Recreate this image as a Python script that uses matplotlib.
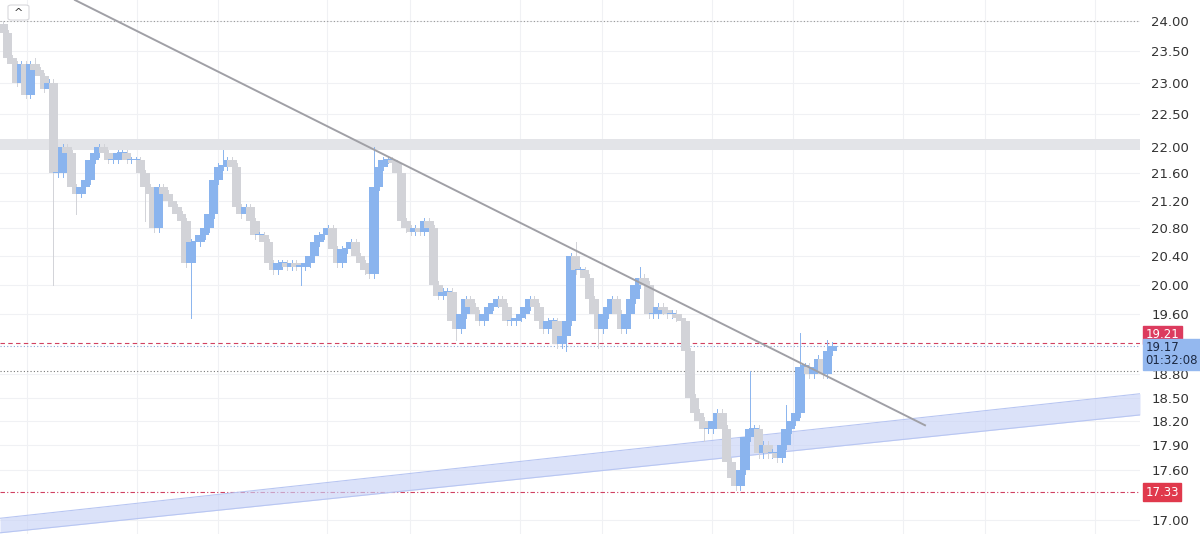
import numpy as np
import matplotlib
matplotlib.use("Agg")
import matplotlib.pyplot as plt
from matplotlib.patches import Rectangle, FancyBboxPatch
from matplotlib.ticker import FixedLocator, NullLocator

closes = [23.8,23.4,23.3,23.0,23.3,22.8,23.3,23.2,23.1,22.9,23.0,21.6,21.6,22.0,21.9,21.4,21.3,21.4,21.5,21.8,
          21.9,22.0,21.9,21.8,21.8,21.9,21.9,21.8,21.8,21.8,21.6,21.4,21.3,20.8,21.4,21.3,21.2,21.1,21.0,20.9,
          20.3,20.6,20.6,20.7,20.8,21.0,21.5,21.7,21.7,21.8,21.7,21.1,21.0,21.1,20.9,20.7,20.7,20.6,20.3,20.2,
          20.3,20.3,20.25,20.3,20.25,20.25,20.3,20.4,20.6,20.7,20.7,20.8,20.5,20.3,20.5,20.5,20.6,20.4,20.3,20.2,
          20.15,21.4,21.7,21.8,21.8,21.75,21.6,20.9,20.8,20.75,20.8,20.75,20.9,20.8,20.0,19.85,19.9,19.9,19.5,19.4,
          19.6,19.8,19.7,19.6,19.5,19.6,19.7,19.75,19.8,19.7,19.5,19.5,19.55,19.6,19.7,19.8,19.7,19.5,19.4,19.5,
          19.5,19.2,19.3,19.5,20.4,20.2,20.2,20.1,19.8,19.6,19.4,19.6,19.7,19.8,19.6,19.4,19.6,19.8,20.0,20.1,
          20.0,19.6,19.6,19.7,19.65,19.6,19.6,19.55,19.5,19.1,18.5,18.3,18.2,18.1,18.1,18.2,18.3,18.1,17.7,17.5,
          17.4,17.6,18.0,18.1,18.1,17.8,17.9,17.8,17.8,17.75,17.9,18.1,18.2,18.3,18.9,18.9,18.8,18.9,19.0,18.8,
          19.1,19.17]
first_open = 23.95
long_lows = {54: 20.0, 77: 21.0, 191: 19.55, 146: 20.9, 300: 20.0, 458: 19.25, 568: 19.1, 598: 19.15,
             738: 17.35, 729: 17.45, 702: 17.95, 800: 18.6}
long_highs = {373: 22.0, 577: 20.6, 641: 20.25, 800: 19.35, 750: 18.85, 827: 19.25, 33: 23.4, 222: 21.95, 787: 18.4}
wick = 0.05

yticks = [24.00,23.50,23.00,22.50,22.00,21.60,21.20,20.80,20.40,20.00,19.60,18.80,18.50,18.20,17.90,17.60,17.00]
grid_px = [27,137,218,327,410,520,602,712,793,903,985,1095]

N = len(closes)
ppu = (832 - 3) / (N - 1)
def px2i(px):
    return (px - 3) / ppu

opens = [first_open] + closes[:-1]
highs = [max(o, c) + wick for o, c in zip(opens, closes)]
lows = [min(o, c) - wick for o, c in zip(opens, closes)]
for px, v in long_lows.items():
    i = int(round(px2i(px))); lows[i] = min(lows[i], v)
for px, v in long_highs.items():
    i = int(round(px2i(px))); highs[i] = max(highs[i], v)

fig = plt.figure(figsize=(12, 5.34), dpi=100)
ax = fig.add_axes([0, 0, 1140/1200, 1])
ax.set_yscale("log")
ytop = 24 * np.exp(21/1447); ybot = 24 * np.exp(-513/1447)
ax.set_ylim(ybot, ytop)
ax.set_xlim(px2i(0), px2i(1140))
for s in ax.spines.values():
    s.set_visible(False)
ax.yaxis.set_major_locator(FixedLocator(yticks))
ax.yaxis.set_minor_locator(NullLocator())
ax.yaxis.tick_right()
ax.set_yticklabels([f"{t:.2f}" for t in yticks])
ax.tick_params(axis="y", length=0, labelsize=9.5, labelcolor="#333333", pad=8)
ax.set_xticks([])

for t in yticks:
    ax.axhline(t, color="#f0f1f4", lw=0.8, zorder=0)
for g in grid_px:
    ax.axvline(px2i(g), color="#f0f1f4", lw=0.8, zorder=0)

ax.axhspan(21.96, 22.12, color="#e3e4e8", zorder=1, lw=0)
ax.axhline(24.0, color="#999999", lw=0.8, ls=(0, (1, 2)), zorder=1)
ax.axhline(18.85, color="#777777", lw=0.8, ls=(0, (1, 2)), zorder=1)
ax.axhline(19.17, color="#8aa8d8", lw=0.8, ls=(0, (1, 2)), zorder=1)
ax.axhline(19.21, color="#d04060", lw=0.8, ls=(0, (4, 3)), zorder=1)
ax.axhline(17.33, color="#d04060", lw=0.8, ls=(0, (4, 2, 1, 2)), zorder=1)

cx = np.array([px2i(0), px2i(1140)])
lower = np.array([16.85, 18.28])
upper = np.array([17.02, 18.55])
ax.fill_between(cx, lower, upper, color="#c9d3f7", alpha=0.65, lw=0, zorder=1)
ax.plot(cx, lower, color="#b8c6f2", lw=0.8, zorder=1)
ax.plot(cx, upper, color="#b8c6f2", lw=0.8, zorder=1)

ax.plot([px2i(75), px2i(925)], [24.35, 18.15], color="#a0a0a6", lw=1.4, zorder=3)

up_c = "#8ab4ee"; dn_c = "#d2d3d8"
bw = ppu * 0.45
for i, (o, h, l, c) in enumerate(zip(opens, highs, lows, closes)):
    col = up_c if c >= o else dn_c
    ax.plot([i, i], [l, h], color=col, lw=0.7, zorder=2)
    b0, b1 = min(o, c), max(o, c)
    if b1 - b0 < 0.02:
        b1 = b0 + 0.02
    ax.add_patch(Rectangle((i - bw/2, b0), bw, b1 - b0, facecolor=col, edgecolor="none", zorder=2))

def tag(y, text, color, tcolor="white", dy=0):
    ax.annotate(text, xy=(1.0, y), xycoords=("axes fraction", "data"), xytext=(4, dy),
                textcoords="offset points", va="center", ha="left", fontsize=8.5, color=tcolor,
                linespacing=1.0,
                bbox=dict(boxstyle="square,pad=0.2", fc=color, ec=color), annotation_clip=False)
tag(19.21, "19.21", "#dc3b5e", dy=6)
tag(19.17, "19.17\n01:32:08", "#94b8ef", tcolor="#1d2a44", dy=-6)
tag(17.33, "17.33", "#e0394c")

fig.patches.append(FancyBboxPatch((8/1200, 1-20/534), 21/1200, 15/534, boxstyle="round,pad=0,rounding_size=0.003",
                                  transform=fig.transFigure, fc="white", ec="#d8d8dc", lw=0.8))
fig.text(18.5/1200, 1-13/534, "^", ha="center", va="center", fontsize=8, color="#333333")

fig.savefig("out.png", dpi=100, facecolor="white")
